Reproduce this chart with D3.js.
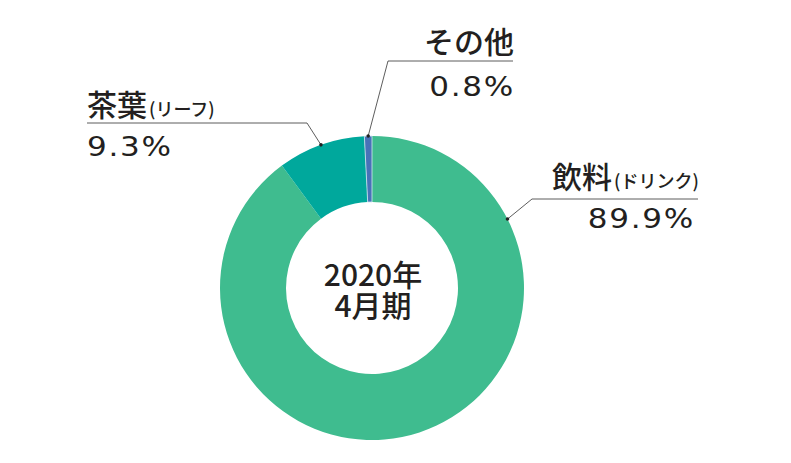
<!DOCTYPE html>
<html>
<head>
<meta charset="utf-8">
<script src="https://cdn.jsdelivr.net/npm/d3@7"></script>
<style>
  html, body { margin: 0; padding: 0; background: #fff; }
  svg text { font-family: "Noto Sans CJK JP", "Noto Sans", sans-serif; fill: #231f20; }
</style>
</head>
<body>
<svg id="chart" width="791" height="463"></svg>
<script>
// data
const categories = ["飲料", "茶葉", "その他"];
const subLabels = ["(ドリンク)", "(リーフ)", ""];
const shares = [89.9, 9.3, 0.8];
const colors = ["#3fbc8f", "#00a89c", "#4872b8"];
const centerLines = ["2020年", "4月期"];

const svg = d3.select("svg#chart");
const cx = 372, cy = 288;
const outerR = 152, innerR = 86;

const pie = d3.pie().sort(null).value(d => d)
    .startAngle(0).endAngle(2 * Math.PI);
const arcs = pie(shares);

const arc = d3.arc().innerRadius(innerR).outerRadius(outerR);

const g = svg.append("g").attr("transform", "translate(" + cx + "," + cy + ")");

g.selectAll("path.slice")
    .data(arcs)
    .join("path")
    .attr("class", "slice")
    .attr("d", arc)
    .attr("fill", (d, i) => colors[i])
    .attr("stroke", (d, i) => i == 2 ? "#cfe9ef" : "none")
    .attr("stroke-width", 0.8);

// center text, one block with two lines
g.append("text")
    .attr("text-anchor", "middle")
    .attr("font-size", 30)
    .attr("font-weight", 500)
    .selectAll("tspan")
    .data(centerLines)
    .join("tspan")
    .attr("x", 1)
    .attr("y", (d, i) => -2 + i * 31)
    .text(d => d);

// point on the outer edge at a given angle
function edgePoint(a) {
    return [cx + outerR * Math.sin(a), cy - outerR * Math.cos(a)];
}
const midAngle = d => (d.startAngle + d.endAngle) / 2;
const anchorOf = d => edgePoint(d.angle == null ? midAngle(arcs[d.i]) : d.angle);

// label layout: leader anchor angle, elbow, underline end, text positions
const labels = [
    { i: 0, angle: 1.10, elbow: [532, 199], lineEnd: 698,
      name: [552, 188, "start"], pct: [695, 228, "end"] },
    { i: 1, angle: null, elbow: [307, 123], lineEnd: 87,
      name: [87, 116, "start"], pct: [87, 156, "start"] },
    { i: 2, angle: null, elbow: [388, 61], lineEnd: 513,
      name: [514, 53, "end"], pct: [515, 96, "end"] }
];

const lbl = svg.selectAll("g.label")
    .data(labels)
    .join("g")
    .attr("class", "label");

lbl.append("path")
    .attr("fill", "none")
    .attr("stroke", "#333")
    .attr("stroke-width", 0.8)
    .attr("d", d => d3.line()([anchorOf(d), d.elbow, [d.lineEnd, d.elbow[1]]]));

lbl.append("circle")
    .attr("r", 1.8)
    .attr("fill", "#222")
    .attr("cx", d => anchorOf(d)[0])
    .attr("cy", d => anchorOf(d)[1]);

const nameText = lbl.append("text")
    .attr("x", d => d.name[0])
    .attr("y", d => d.name[1])
    .attr("text-anchor", d => d.name[2])
    .attr("font-size", 30)
    .attr("font-weight", 500);
nameText.append("tspan").text(d => categories[d.i]);
nameText.append("tspan")
    .attr("font-size", 18)
    .attr("dx", 2)
    .text(d => subLabels[d.i]);

// percentages: wide geometric digits in the original, stretched a little here
lbl.append("text")
    .attr("transform", d => "translate(" + d.pct[0] + "," + d.pct[1] + ") scale(1.15,1)")
    .attr("text-anchor", d => d.pct[2])
    .style("font-family", "'DejaVu Sans', sans-serif")
    .attr("font-size", 27)
    .attr("letter-spacing", 1.5)
    .text(d => shares[d.i].toFixed(1) + "%");
</script>
</body>
</html>
